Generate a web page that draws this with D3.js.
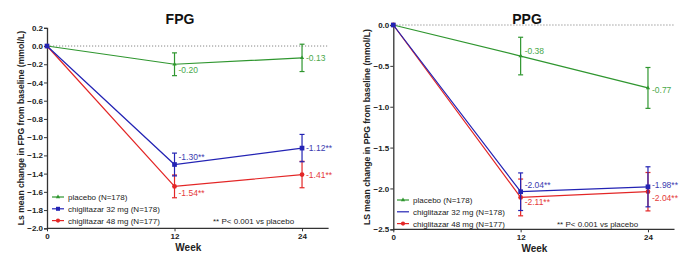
<!DOCTYPE html>
<html>
<head>
<meta charset="utf-8">
<script src="https://cdn.jsdelivr.net/npm/d3@7"></script>
<style>
  body { margin:0; background:#fff; }
  svg { font-family: "Liberation Sans", Arial, sans-serif; }
</style>
</head>
<body>
<div id="chart"></div>
<script>
// data
const weeks = [0, 12, 24]
const seriesNames = ["placebo (N=178)", "chiglitazar 32 mg (N=178)", "chiglitazar 48 mg (N=177)"]

const fpgPlacebo = [0, -0.20, -0.13]
const fpgPlaceboErr = [0, 0.125, 0.15]
const fpg32 = [0, -1.30, -1.12]
const fpg32Err = [0, 0.125, 0.15]
const fpg48 = [0, -1.54, -1.41]
const fpg48Err = [0, 0.125, 0.145]
const fpgLabels = [["-0.20", "-0.13"], ["-1.30**", "-1.12**"], ["-1.54**", "-1.41**"]]

const ppgPlacebo = [0, -0.38, -0.77]
const ppgPlaceboErr = [0, 0.23, 0.25]
const ppg32 = [0, -2.04, -1.98]
const ppg32Err = [0, 0.23, 0.245]
const ppg48 = [0, -2.11, -2.04]
const ppg48Err = [0, 0.225, 0.235]
const ppgLabels = [["-0.38", "-0.77"], ["-2.04**", "-1.98**"], ["-2.11**", "-2.04**"]]

const fpgTicks = d3.range(-2.0, 0.21, 0.2)
const ppgTicks = [-2.5, -2.0, -1.5, -1.0, -0.5, 0.0]

const lineColors = ["#2f962f", "#2323b4", "#e32626"]
const textColors = ["#4aa84a", "#3b3bb0", "#e53a3a"]

const svg = d3.select("#chart").append("svg")
  .attr("width", 693).attr("height", 263)

function panel(p){
  const x = d3.scaleLinear().domain([0, 26.5]).range(p.xr)
  const y = d3.scaleLinear().domain(p.yd).range(p.yr)
  const g = svg.append("g")

  // dotted zero line
  g.append("line")
    .attr("x1", x(0)).attr("x2", x(26.5))
    .attr("y1", y(0)).attr("y2", y(0))
    .style("stroke", "#888").style("stroke-dasharray", "1.2,1.8").style("stroke-width", 1)

  // y axis
  const ya = g.append("g")
    .attr("transform", "translate(" + x(0) + ",0)")
    .call(d3.axisLeft(y).tickValues(p.ticks).tickSize(3).tickFormat(d3.format(".1f")))
  ya.select(".domain").style("stroke", "#333").style("stroke-width", 1.3)
  ya.selectAll(".tick line").style("stroke", "#333")
  ya.selectAll("text").style("font-size", "8px").style("font-weight", "bold").style("fill", "#222")
    .attr("x", -4)

  // x axis
  const xa = g.append("g")
    .attr("transform", "translate(0," + p.yr[0] + ")")
    .call(d3.axisBottom(x).tickValues(weeks).tickSize(3).tickFormat(d3.format("d")))
  xa.select(".domain").attr("d", "M" + x(0) + ",0H" + x(26.5)).style("stroke", "#333").style("stroke-width", 1.3)
  xa.selectAll(".tick line").style("stroke", "#333")
  xa.selectAll("text").style("font-size", "8px").style("font-weight", "bold").style("fill", "#222")
    .attr("y", 5)

  g.append("text")
    .attr("x", x(13.3)).attr("y", p.yr[0] + 23)
    .attr("text-anchor", "middle")
    .style("font-size", "10px").style("font-weight", "bold").style("fill", "#222")
    .text("Week")

  g.append("text")
    .attr("transform", "translate(" + p.ylabX + "," + ((p.yr[0] + p.yr[1]) / 2) + ") rotate(-90)")
    .attr("text-anchor", "middle")
    .style("font-size", "8.6px").style("font-weight", "bold").style("fill", "#222")
    .text(p.ylabel)

  g.append("text")
    .attr("x", p.titleX).attr("y", 24)
    .attr("text-anchor", "middle")
    .style("font-size", "14px").style("font-weight", "bold").style("fill", "#111")
    .text(p.title)

  // series: draw placebo, 48, then 32 on top
  const order = [0, 2, 1]
  order.forEach(function(i){
    const vals = p.series[i], errs = p.errs[i]
    const pts = weeks.map((w, k) => ({w: w, v: vals[k], e: errs[k]}))
    g.append("path")
      .datum(pts)
      .attr("d", d3.line().x(d => x(d.w)).y(d => y(d.v)))
      .style("fill", "none").style("stroke", lineColors[i]).style("stroke-width", 1.2)
    const eb = pts.filter(d => d.e > 0)
    g.selectAll(null).data(eb).enter().append("line")
      .attr("x1", d => x(d.w)).attr("x2", d => x(d.w))
      .attr("y1", d => y(d.v + d.e)).attr("y2", d => y(d.v - d.e))
      .style("stroke", lineColors[i]).style("stroke-width", 1.2)
    g.selectAll(null).data(eb.flatMap(d => [d.v + d.e, d.v - d.e].map(v => ({w: d.w, v: v})))).enter().append("line")
      .attr("x1", d => x(d.w) - 2.5).attr("x2", d => x(d.w) + 2.5)
      .attr("y1", d => y(d.v)).attr("y2", d => y(d.v))
      .style("stroke", lineColors[i]).style("stroke-width", 1.2)
    const sym = [d3.symbolTriangle, d3.symbolSquare, d3.symbolCircle][i]
    const size = [8, 22, 18][i]
    g.selectAll(null).data(pts).enter().append("path")
      .attr("transform", d => "translate(" + x(d.w) + "," + y(d.v) + ")")
      .attr("d", d3.symbol().type(sym).size(size))
      .style("fill", lineColors[i])
    // value labels
    pts.slice(1).forEach(function(d, k){
      g.append("text")
        .attr("x", x(d.w) + 4).attr("y", y(d.v) + p.labDy[i][k])
        .style("font-size", "8.5px").style("fill", textColors[i])
        .text(p.labels[i][k])
    })
  })

  // legend
  seriesNames.forEach(function(name, i){
    const ly = p.legY + i * 11.8
    g.append("line")
      .attr("x1", p.legX).attr("x2", p.legX + 12)
      .attr("y1", ly).attr("y2", ly)
      .style("stroke", lineColors[i]).style("stroke-width", 1.2)
    if (p.legMarks[i]) {
      g.append("path")
        .attr("transform", "translate(" + (p.legX + 6) + "," + ly + ")")
        .attr("d", d3.symbol().type([d3.symbolTriangle, d3.symbolSquare, d3.symbolCircle][i]).size([8, 16, 14][i]))
        .style("fill", lineColors[i])
    }
    g.append("text")
      .attr("x", p.legX + 16).attr("y", ly + 3)
      .style("font-size", "8px").style("fill", "#222")
      .text(name)
  })
  g.append("text")
    .attr("x", p.noteX).attr("y", p.legY + 2 * 11.8 + 3)
    .style("font-size", "8px").style("fill", "#222")
    .text("** P< 0.001 vs placebo")
}

panel({
  title: "FPG", titleX: 180,
  xr: [47, 328.6], yd: [-2.0, 0.2], yr: [228.3, 27.8],
  ticks: fpgTicks,
  ylabel: "Ls mean change in FPG from baseline (mmol/L)", ylabX: 24,
  series: [fpgPlacebo, fpg32, fpg48], errs: [fpgPlaceboErr, fpg32Err, fpg48Err],
  labels: fpgLabels,
  labDy: [[9, 3], [-5, 3], [10, 3]],
  legX: 52, legY: 197, legMarks: [true, true, true], noteX: 213
})

panel({
  title: "PPG", titleX: 527,
  xr: [393.3, 674.5], yd: [-2.5, 0], yr: [229.3, 25],
  ticks: ppgTicks,
  ylabel: "LS mean change in PPG from baseline (mmol/L)", ylabX: 370,
  series: [ppgPlacebo, ppg32, ppg48], errs: [ppgPlaceboErr, ppg32Err, ppg48Err],
  labels: ppgLabels,
  labDy: [[-2, 5], [-4, 1], [8, 9]],
  legX: 397, legY: 200, legMarks: [true, false, true], noteX: 557
})
</script>
</body>
</html>
